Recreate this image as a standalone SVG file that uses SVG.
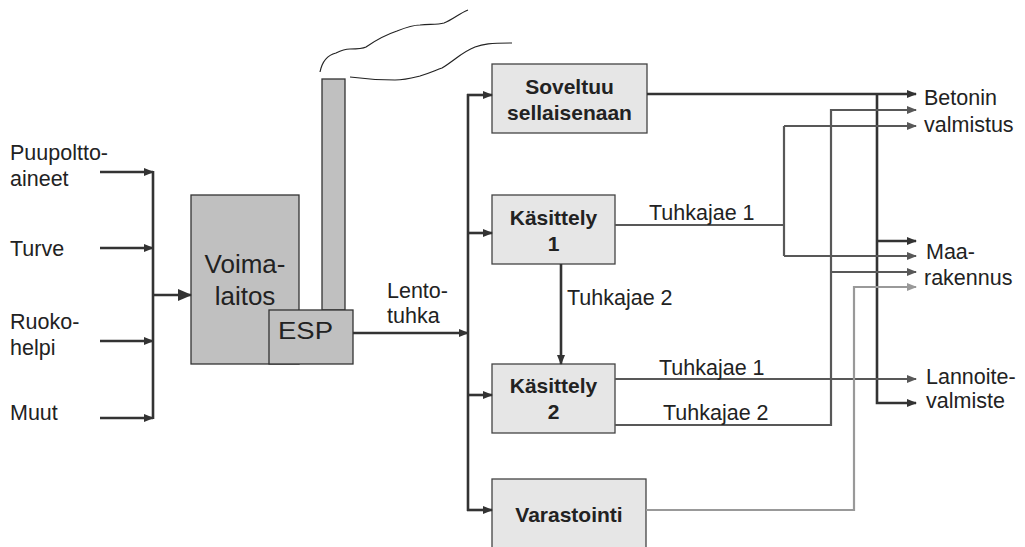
<svg xmlns="http://www.w3.org/2000/svg" width="1025" height="547" viewBox="0 0 1025 547">
<style>
text{font-family:"Liberation Sans",Arial,sans-serif;fill:#222;}
.lbl{font-size:21.5px;}
.bx{font-size:21px;font-weight:bold;text-anchor:middle;}
.plant{fill:#c0c0c0;stroke:#333;stroke-width:1.3;}
.proc{fill:#e6e6e6;stroke:#444;stroke-width:1.3;}
.d{fill:none;stroke:#333;stroke-width:2.6;}
.m{fill:none;stroke:#585858;stroke-width:2.2;}
.l{fill:none;stroke:#999;stroke-width:2.2;}
.smoke{fill:none;stroke:#222;stroke-width:1.2;}
</style>
<defs>
<marker id="ad" markerUnits="userSpaceOnUse" markerWidth="10" markerHeight="8" refX="9" refY="4" orient="auto"><path d="M0,0 L10,4 L0,8 Z" fill="#333"/></marker>
<marker id="adb" markerUnits="userSpaceOnUse" markerWidth="14" markerHeight="12" refX="13" refY="6" orient="auto"><path d="M0,0 L14,6 L0,12 Z" fill="#333"/></marker>
<marker id="am" markerUnits="userSpaceOnUse" markerWidth="10" markerHeight="8" refX="9" refY="4" orient="auto"><path d="M0,0 L10,4 L0,8 Z" fill="#585858"/></marker>
<marker id="al" markerUnits="userSpaceOnUse" markerWidth="10" markerHeight="8" refX="9" refY="4" orient="auto"><path d="M0,0 L10,4 L0,8 Z" fill="#999"/></marker>
</defs>

<g id="smoke">
<path class="smoke" d="M320,72 C322,62 328,55 336,53 C342,50 345,49 350,49 C358,49 362,49 366,47 C376,40 385,35 397,31 C407,27 413,25 420,25 C430,24 437,25 444,23 C452,20 460,13 468,10"/>
<path class="smoke" d="M350,77 C365,79 380,80 395,80 C405,80 412,78 420,76 C430,73 436,70 442,68 C455,60 462,52 475,47 C483,44 490,43 512,43"/>
</g>

<g id="inputs">
<text class="lbl" x="10" y="160">Puupoltto-</text>
<text class="lbl" x="10" y="186">aineet</text>
<text class="lbl" x="10" y="256">Turve</text>
<text class="lbl" x="10" y="329">Ruoko-</text>
<text class="lbl" x="10" y="355">helpi</text>
<text class="lbl" x="10" y="420">Muut</text>
</g>

<g id="chimney"><rect class="plant" x="322" y="79" width="23" height="231"/></g>
<g id="voimalaitos">
<rect class="plant" x="191" y="195" width="108" height="169"/>
<text x="245" y="273" style="font-size:26px;text-anchor:middle">Voima-</text>
<text x="245" y="305" style="font-size:26px;text-anchor:middle">laitos</text>
</g>
<g id="esp">
<rect class="plant" x="269" y="310" width="84" height="54"/>
<text x="278" y="339" style="font-size:23px" textLength="55" lengthAdjust="spacingAndGlyphs">ESP</text>
</g>

<g id="soveltuu">
<rect class="proc" x="492" y="64" width="155" height="69"/>
<text class="bx" x="569.5" y="94">Soveltuu</text>
<text class="bx" x="569.5" y="120">sellaisenaan</text>
</g>
<g id="kasittely1">
<rect class="proc" x="492" y="195" width="123" height="69"/>
<text class="bx" x="553.5" y="225">Käsittely</text>
<text class="bx" x="553.5" y="251">1</text>
</g>
<g id="kasittely2">
<rect class="proc" x="492" y="364" width="123" height="69"/>
<text class="bx" x="553.5" y="393">Käsittely</text>
<text class="bx" x="553.5" y="419">2</text>
</g>
<g id="varastointi">
<rect class="proc" x="492" y="479" width="154" height="80"/>
<text class="bx" x="569" y="522">Varastointi</text>
</g>

<g id="outputs">
<text class="lbl" x="924" y="105">Betonin</text>
<text class="lbl" x="924" y="132">valmistus</text>
<text class="lbl" x="926" y="259">Maa-</text>
<text class="lbl" x="924" y="285">rakennus</text>
<text class="lbl" x="926" y="384">Lannoite-</text>
<text class="lbl" x="926" y="408">valmiste</text>
</g>

<g id="connectors">
<path class="d" d="M100,172 H153" marker-end="url(#ad)"/>
<path class="d" d="M100,248 H153" marker-end="url(#ad)"/>
<path class="d" d="M100,341 H153" marker-end="url(#ad)"/>
<path class="d" d="M100,418 H153" marker-end="url(#ad)"/>
<path class="d" d="M153,171 V419"/>
<path class="d" d="M153,295 H191" marker-end="url(#adb)"/>
<path class="d" d="M353,333 H468" marker-end="url(#ad)"/>
<path class="d" d="M468,94 V511"/>
<path class="d" d="M467,95 H492" marker-end="url(#ad)"/>
<path class="d" d="M467,233 H492" marker-end="url(#ad)"/>
<path class="d" d="M467,395 H492" marker-end="url(#ad)"/>
<path class="d" d="M467,510 H492" marker-end="url(#ad)"/>
<path class="d" d="M561,264 V364" marker-end="url(#ad)"/>
<path class="d" d="M647,94 H916" marker-end="url(#ad)"/>
<path class="d" d="M877,94 V403 H916" marker-end="url(#ad)"/>
<path class="d" d="M877,241 H916" marker-end="url(#ad)"/>

<path class="m" d="M615,225 H784"/>
<path class="m" d="M784,126 V256"/>
<path class="m" d="M784,126 H916" marker-end="url(#am)"/>
<path class="m" d="M784,256 H916" marker-end="url(#am)"/>
<path class="m" d="M615,379 H916" marker-end="url(#am)"/>
<path class="m" d="M615,425 H831 V110 H916" marker-end="url(#am)"/>
<path class="m" d="M831,272 H916" marker-end="url(#am)"/>

<path class="l" d="M646,510 H854 V287 H916" marker-end="url(#al)"/>

<text class="lbl" x="387" y="298">Lento-</text>
<text class="lbl" x="387" y="323">tuhka</text>
<text class="lbl" x="567" y="305">Tuhkajae 2</text>
<text class="lbl" x="649" y="220">Tuhkajae 1</text>
<text class="lbl" x="659" y="375">Tuhkajae 1</text>
<text class="lbl" x="663" y="420">Tuhkajae 2</text>
</g>
</svg>
